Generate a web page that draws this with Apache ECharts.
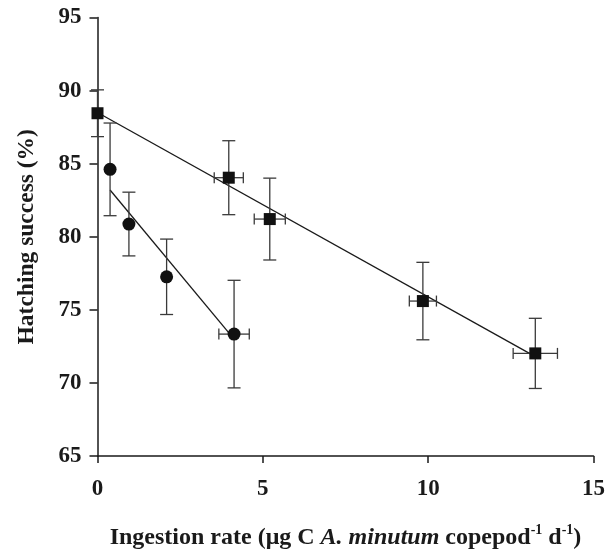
<!DOCTYPE html>
<html>
<head>
<meta charset="utf-8">
<script src="https://cdn.jsdelivr.net/npm/echarts@6/dist/echarts.min.js"></script>
<style>
  html, body { margin: 0; padding: 0; background: #fff; }
  #chart { width: 613px; height: 549px; }
</style>
</head>
<body>
<div id="chart"></div>
<script>
// squares
const sqX = [0, 3.97, 5.21, 9.84, 13.24];
const sqY = [88.45, 84.04, 81.21, 75.6, 72.02];
const sqXErr = [0, 0.44, 0.47, 0.41, 0.67];
const sqYErr = [1.6, 2.53, 2.8, 2.65, 2.4];
// circles
const dotX = [0.38, 0.95, 2.09, 4.13];
const dotY = [84.61, 80.87, 77.26, 73.34];
const dotXErr = [0, 0, 0, 0.46];
const dotYErr = [3.17, 2.18, 2.58, 3.68];
// fitted lines
const sqFitX = [0, 13.24];
const sqFitY = [88.5, 71.8];
const dotFitX = [0.38, 4.13];
const dotFitY = [83.2, 73.0];
// axes
const xTicks = [0, 5, 10, 15];
const yTicks = [65, 70, 75, 80, 85, 90, 95];

const serif = '"Liberation Serif", "Times New Roman", serif';
const ink = '#1a1a1a';

function pairs(xs, ys) {
    return xs.map((x, i) => [x, ys[i]]);
}

function errRows(xs, ys, exs, eys) {
    return xs.map((x, i) => [x, ys[i], exs[i], eys[i]]);
}

function errorBars(params, api) {
    const x = api.value(0), y = api.value(1);
    const ex = api.value(2), ey = api.value(3);
    const cap = 6.5;
    const style = { stroke: '#3a3a3a', lineWidth: 1.3 };
    const seg = (x1, y1, x2, y2) => ({
        type: 'line', shape: { x1, y1, x2, y2 }, style
    });
    const out = [];
    if (ey > 0) {
        const t = api.coord([x, y + ey]);
        const b = api.coord([x, y - ey]);
        out.push(seg(t[0], t[1], b[0], b[1]));
        out.push(seg(t[0] - cap, t[1], t[0] + cap, t[1]));
        out.push(seg(b[0] - cap, b[1], b[0] + cap, b[1]));
    }
    if (ex > 0) {
        const l = api.coord([x - ex, y]);
        const r = api.coord([x + ex, y]);
        out.push(seg(l[0], l[1], r[0], r[1]));
        out.push(seg(l[0], l[1] - 5.5, l[0], l[1] + 5.5));
        out.push(seg(r[0], r[1] - 5.5, r[0], r[1] + 5.5));
    }
    return { type: 'group', children: out };
}

const chart = echarts.init(document.getElementById('chart'), null, { renderer: 'canvas' });

chart.setOption({
    backgroundColor: '#ffffff',
    animation: false,
    grid: {
        left: 97.5, right: 19.5, top: 17.5, bottom: 93,
        containLabel: false,
        outerBoundsMode: 'none'
    },
    xAxis: {
        type: 'value',
        min: xTicks[0],
        max: xTicks[xTicks.length - 1],
        interval: 5,
        splitLine: { show: false },
        axisLine: { onZero: false, lineStyle: { color: ink, width: 1.5 } },
        axisTick: { show: true, inside: false, length: 7, lineStyle: { color: ink, width: 1.5 } },
        axisLabel: { margin: 22, fontFamily: serif, fontWeight: 'bold', fontSize: 23, color: ink },
        name: '{b|Ingestion rate (μg C }{i|A. minutum}{b| copepod}{s|-1}{b| d}{s|-1}{b|)}',
        nameLocation: 'middle',
        nameGap: 67,
        nameTextStyle: {
            rich: {
                b: { fontFamily: serif, fontWeight: 'bold', fontSize: 24, color: ink, lineHeight: 27, verticalAlign: 'bottom' },
                i: { fontFamily: serif, fontWeight: 'bold', fontStyle: 'italic', fontSize: 24, color: ink, lineHeight: 27, verticalAlign: 'bottom' },
                s: { fontFamily: serif, fontWeight: 'bold', fontSize: 14, color: ink, lineHeight: 27, verticalAlign: 'top' }
            }
        }
    },
    yAxis: {
        type: 'value',
        min: yTicks[0],
        max: yTicks[yTicks.length - 1],
        interval: 5,
        splitLine: { show: false },
        axisLine: { onZero: false, lineStyle: { color: ink, width: 1.5 } },
        axisTick: { show: true, inside: false, length: 8, lineStyle: { color: ink, width: 1.5 } },
        axisLabel: { margin: 16, fontFamily: serif, fontWeight: 'bold', fontSize: 23, color: ink },
        name: 'Hatching success (%)',
        nameLocation: 'middle',
        nameGap: 59,
        nameTextStyle: { fontFamily: serif, fontWeight: 'bold', fontSize: 23.5, color: ink }
    },
    series: [{
        type: 'line',
        data: pairs(sqFitX, sqFitY),
        symbol: 'none',
        lineStyle: { color: ink, width: 1.3 },
        z: 2
    }, {
        type: 'line',
        data: pairs(dotFitX, dotFitY),
        symbol: 'none',
        lineStyle: { color: ink, width: 1.3 },
        z: 2
    }, {
        type: 'custom',
        renderItem: errorBars,
        data: errRows(sqX, sqY, sqXErr, sqYErr),
        z: 3
    }, {
        type: 'custom',
        renderItem: errorBars,
        data: errRows(dotX, dotY, dotXErr, dotYErr),
        z: 3
    }, {
        type: 'scatter',
        data: pairs(sqX, sqY),
        symbol: 'rect',
        symbolSize: 12,
        itemStyle: { color: '#111', opacity: 1 },
        z: 4
    }, {
        type: 'scatter',
        data: pairs(dotX, dotY),
        symbol: 'circle',
        symbolSize: 13,
        itemStyle: { color: '#111', opacity: 1 },
        z: 4
    }]
});
</script>
</body>
</html>
